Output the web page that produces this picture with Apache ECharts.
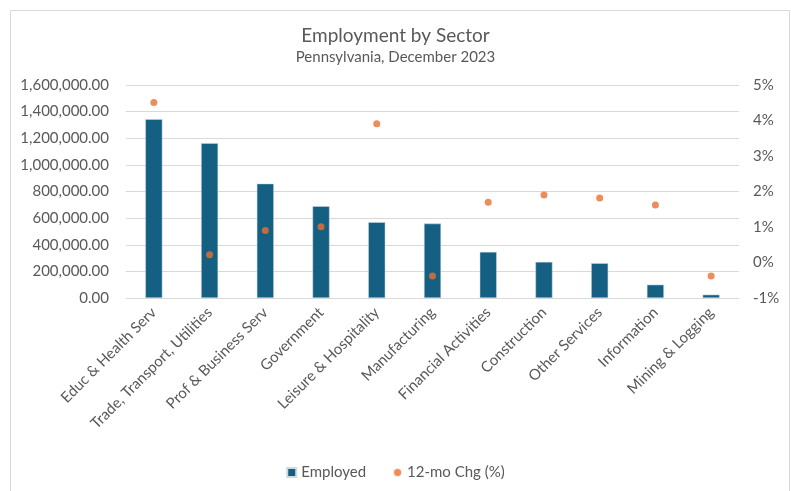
<!DOCTYPE html>
<html>
<head>
<meta charset="utf-8">
<script src="https://cdn.jsdelivr.net/npm/echarts@6/dist/echarts.min.js"></script>
<style>
  html, body { margin: 0; padding: 0; background: #fff; }
  #main { width: 791px; height: 491px; }
</style>
</head>
<body>
<div id="main"></div>
<script>
var sectors = ['Educ & Health Serv', 'Trade, Transport, Utilities', 'Prof & Business Serv', 'Government',
    'Leisure & Hospitality', 'Manufacturing', 'Financial Activities', 'Construction',
    'Other Services', 'Information', 'Mining & Logging'];
var employed = [1343000, 1163000, 859000, 689000, 569000, 559000, 346000, 271000, 261000, 100000, 25000];
var chg12mo = [4.51, 0.22, 0.90, 1.01, 3.91, -0.38, 1.70, 1.90, 1.82, 1.62, -0.38];

var txt = '#595959';
var font = 'Lato';

var chart = echarts.init(document.getElementById('main'));
var option = {
    backgroundColor: '#fff',
    graphic: [{
        type: 'rect',
        shape: { x: 10.5, y: 10.5, width: 779, height: 500 },
        style: { fill: 'none', stroke: '#d9d9d9', lineWidth: 1 },
        silent: true
    }],
    title: {
        text: 'Employment by Sector',
        subtext: 'Pennsylvania, December 2023',
        left: 'center',
        top: 21,
        itemGap: 5,
        textStyle: { color: txt, fontFamily: font, fontSize: 19, fontWeight: 'normal' },
        subtextStyle: { color: txt, fontFamily: font, fontSize: 15 }
    },
    legend: {
        bottom: 6,
        left: 'center',
        itemGap: 26,
        itemWidth: 9,
        itemHeight: 9,
        textStyle: { color: txt, fontFamily: font, fontSize: 15 },
        data: [
            { name: 'Employed', icon: 'rect' },
            { name: '12-mo Chg (%)', icon: 'circle', itemStyle: { borderWidth: 2, borderColor: '#fff' } }
        ]
    },
    grid: { left: 126, right: 52, top: 85, bottom: 193 },
    xAxis: {
        type: 'category',
        data: sectors,
        axisLine: { lineStyle: { color: '#d9d9d9' } },
        axisTick: { show: false },
        axisLabel: {
            rotate: 45,
            interval: 0,
            margin: 12,
            color: txt,
            fontFamily: font,
            fontSize: 15
        }
    },
    yAxis: [{
        type: 'value',
        min: 0,
        max: 1600000,
        interval: 200000,
        axisLabel: {
            color: txt,
            fontFamily: font,
            fontSize: 15,
            margin: 17,
            formatter: function (v) {
                return v.toLocaleString('en-US', { minimumFractionDigits: 2, maximumFractionDigits: 2 });
            }
        },
        axisLine: { show: false },
        axisTick: { show: false },
        splitLine: { lineStyle: { color: '#d9d9d9', width: 1 } }
    }, {
        type: 'value',
        min: -1,
        max: 5,
        interval: 1,
        axisLabel: {
            color: txt,
            fontFamily: font,
            fontSize: 15,
            margin: 14,
            formatter: '{value}%'
        },
        axisLine: { show: false },
        axisTick: { show: false },
        splitLine: { show: false }
    }],
    series: [{
        name: 'Employed',
        type: 'bar',
        data: employed,
        barWidth: 17,
        itemStyle: { color: '#156082', borderColor: '#c9dbe3', borderWidth: 0.5 }
    }, {
        name: '12-mo Chg (%)',
        type: 'scatter',
        yAxisIndex: 1,
        data: chg12mo,
        symbolSize: 7,
        itemStyle: { color: '#E97132' }
    }]
};
chart.setOption(option);

window.onresize = chart.resize;
</script>
</body>
</html>
